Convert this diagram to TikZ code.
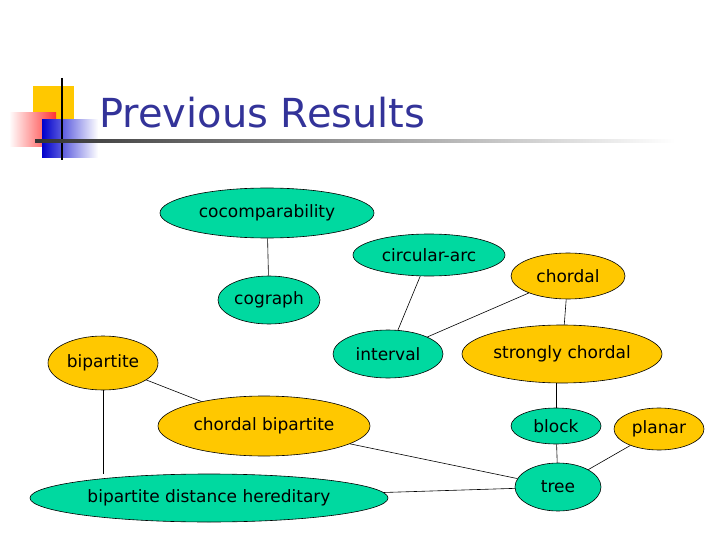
\documentclass[tikz,border=0pt]{standalone}
\usepackage{fontspec}
\setmainfont{DejaVu Sans}
\usetikzlibrary{shapes.geometric}
\definecolor{gr}{RGB}{0,217,160}
\definecolor{ye}{RGB}{255,200,0}
\definecolor{navy}{RGB}{51,51,153}
\begin{document}
\begin{tikzpicture}[x=1pt,y=-1pt,
  el/.style={ellipse,draw=black,line width=0.6pt,inner sep=0pt,font=\fontsize{17}{20}\selectfont},
  g/.style={el,fill=gr},
  o/.style={el,fill=ye},
  ed/.style={draw=black,line width=0.6pt}]
\useasboundingbox (0,0) rectangle (720,540);
% title decoration
\fill[ye] (33,86) rectangle (74,120);
\shade[left color=white,right color=red!80] (9,113) rectangle (56,147);
\shade[left color=blue!80!black,right color=white] (42,120) rectangle (98,158);
\draw[black,line width=1.5pt] (62,78) -- (62,160);
\shade[left color=black!80,right color=white] (35,140) rectangle (675,142.5);
\node[anchor=base west,text=navy,font=\fontsize{40}{44}\selectfont,inner sep=0pt] (title) at (99,128) {Previous Results};
% nodes
\node[g,minimum width=214,minimum height=50] (coc) at (267,213) {cocomparability};
\node[g,minimum width=102,minimum height=48] (cog) at (269,300) {cograph};
\node[g,minimum width=152,minimum height=42] (ca) at (429,255) {circular-arc};
\node[o,minimum width=114,minimum height=46] (ch) at (568,276) {chordal};
\node[g,minimum width=110,minimum height=48] (int) at (388,354) {interval};
\node[o,minimum width=200,minimum height=58] (sc) at (562,354) {strongly chordal};
\node[o,minimum width=110,minimum height=54] (bip) at (103,363) {bipartite};
\node[o,minimum width=212,minimum height=60] (cb) at (264,426) {chordal bipartite};
\node[g,minimum width=90,minimum height=36] (blk) at (556,426) {block};
\node[o,minimum width=90,minimum height=42] (pl) at (659,429) {planar};
\node[g,minimum width=86,minimum height=48] (tr) at (558,487) {tree};
\node[g,minimum width=358,minimum height=48] (bdh) at (209,498) {bipartite distance hereditary};
% edges
\draw[ed] (coc) -- (cog);
\draw[ed] (ca) -- (int);
\draw[ed] (ch) -- (int);
\draw[ed] (ch) -- (sc);
\draw[ed] (sc.south -| blk.north) -- (blk);
\draw[ed] (blk) -- (tr);
\draw[ed] (pl) -- (tr);
\draw[ed] (cb) -- (tr);
\draw[ed] (bdh) -- (tr);
\draw[ed] (bip) -- (bdh.north -| bip.south);
\draw[ed] (bip) -- (cb);
\end{tikzpicture}
\end{document}
